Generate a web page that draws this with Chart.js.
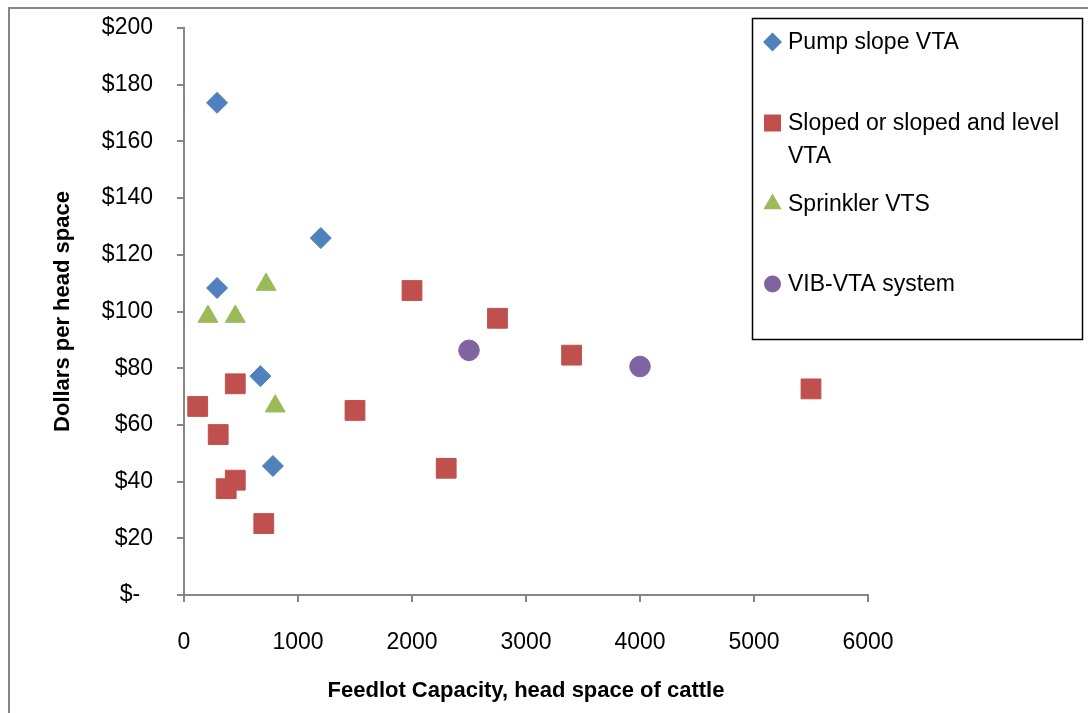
<!DOCTYPE html>
<html>
<head>
<meta charset="utf-8">
<script src="https://cdn.jsdelivr.net/npm/chart.js@4.4.0/dist/chart.umd.min.js"></script>
<style>
  html, body { margin: 0; padding: 0; background: #fff; }
</style>
</head>
<body>
<canvas id="myChart" width="1088" height="713"></canvas>
<script>
var seriesNames = ["Pump slope VTA", "Sloped or sloped and level VTA", "Sprinkler VTS", "VIB-VTA system"];

var pumpX = [290, 290, 1200, 670, 780];
var pumpY = [173.6, 108.3, 125.9, 77.2, 45.5];

var slopedX = [120, 300, 450, 370, 450, 700, 1500, 2000, 2300, 2750, 3400, 5500];
var slopedY = [66.5, 56.6, 74.5, 37.5, 40.5, 25.2, 65.1, 107.4, 44.7, 97.6, 84.6, 72.7];

var sprinklerX = [210, 450, 720, 800];
var sprinklerY = [98.2, 98.2, 109.5, 66.6];

var vibX = [2500, 4000];
var vibY = [86.3, 80.6];

var xTicks = [0, 1000, 2000, 3000, 4000, 5000, 6000];
var yTicks = [0, 20, 40, 60, 80, 100, 120, 140, 160, 180, 200];

var axisGrey = '#868686';
var fontName = '"Liberation Sans", Arial, sans-serif';

function toPoints(xs, ys) {
  return xs.map(function (x, i) { return { x: x, y: ys[i] }; });
}

function yLabel(v) {
  return v === 0 ? '$-  ' : '$' + v;
}

function drawMarker(ctx, style, r, x, y) {
  ctx.beginPath();
  if (style === 'rectRot') {
    ctx.moveTo(x, y - r); ctx.lineTo(x + r, y); ctx.lineTo(x, y + r); ctx.lineTo(x - r, y);
  } else if (style === 'rect') {
    var s = r * Math.SQRT1_2;
    ctx.rect(x - s, y - s, 2 * s, 2 * s);
  } else if (style === 'triangle') {
    ctx.moveTo(x, y - r);
    ctx.lineTo(x + r * Math.sin(2 * Math.PI / 3), y + r / 2);
    ctx.lineTo(x - r * Math.sin(2 * Math.PI / 3), y + r / 2);
  } else {
    ctx.arc(x, y, r, 0, Math.PI * 2);
  }
  ctx.closePath();
  ctx.fill();
}

// frame round the whole picture
var framePlugin = {
  id: 'frame',
  beforeDraw: function (chart) {
    var ctx = chart.ctx;
    ctx.save();
    ctx.fillStyle = '#fff';
    ctx.fillRect(0, 0, chart.width, chart.height);
    ctx.strokeStyle = axisGrey;
    ctx.lineWidth = 2;
    ctx.strokeRect(9, 8, chart.width + 20, chart.height + 20);
    ctx.restore();
  }
};

// Excel style boxed legend on the right
var boxLegend = {
  id: 'boxLegend',
  afterDraw: function (chart) {
    var ctx = chart.ctx;
    var rows = [42, 123, 204, 284];
    var sizes = [9.5, 12, 10.5, 8.5];
    ctx.save();
    ctx.strokeStyle = '#000';
    ctx.lineWidth = 1.5;
    ctx.strokeRect(752.5, 18.5, 330, 321);
    ctx.font = '23px ' + fontName;
    ctx.textBaseline = 'middle';
    ctx.textAlign = 'left';
    chart.data.datasets.forEach(function (ds, i) {
      ctx.fillStyle = ds.backgroundColor;
      drawMarker(ctx, ds.pointStyle, sizes[i], 772.5, rows[i]);
      // wrap the label inside the box
      var words = ds.label.split(' ');
      var lines = [], line = '';
      words.forEach(function (w) {
        var test = line ? line + ' ' + w : w;
        if (ctx.measureText(test).width > 290 && line) {
          lines.push(line);
          line = w;
        } else {
          line = test;
        }
      });
      lines.push(line);
      ctx.fillStyle = '#000';
      lines.forEach(function (l, j) {
        ctx.fillText(l, 788, rows[i] + 1 + j * 33);
      });
    });
    ctx.restore();
  }
};

var ctx = document.getElementById('myChart');
var myChart = new Chart(ctx, {
  type: 'scatter',
  data: {
    datasets: [{
      label: seriesNames[0],
      data: toPoints(pumpX, pumpY),
      pointStyle: 'rectRot',
      pointRadius: 10.5,
      backgroundColor: '#4F81BD',
      borderColor: '#4F81BD',
      borderWidth: 1
    }, {
      label: seriesNames[1],
      data: toPoints(slopedX, slopedY),
      pointStyle: 'rect',
      pointRadius: 14,
      backgroundColor: '#C0504D',
      borderColor: '#C0504D',
      borderWidth: 1
    }, {
      label: seriesNames[2],
      data: toPoints(sprinklerX, sprinklerY),
      pointStyle: 'triangle',
      pointRadius: 11.5,
      backgroundColor: '#9BBB59',
      borderColor: '#9BBB59',
      borderWidth: 1
    }, {
      label: seriesNames[3],
      data: toPoints(vibX, vibY),
      pointStyle: 'circle',
      pointRadius: 10.3,
      backgroundColor: '#8064A2',
      borderColor: '#8064A2',
      borderWidth: 1
    }]
  },
  options: {
    responsive: false,
    animation: false,
    devicePixelRatio: 1,
    layout: { padding: { left: 0, top: 28, right: 220, bottom: 0 } },
    plugins: {
      legend: { display: false },
      tooltip: { enabled: false }
    },
    scales: {
      x: {
        type: 'linear',
        min: xTicks[0],
        max: xTicks[xTicks.length - 1],
        afterBuildTicks: function (scale) {
          scale.ticks = xTicks.map(function (v) { return { value: v }; });
        },
        afterFit: function (scale) { scale.height = 118; },
        ticks: {
          color: '#000',
          padding: 27,
          maxRotation: 0,
          font: { family: fontName, size: 23 },
          callback: function (v) { return String(v); }
        },
        grid: {
          drawOnChartArea: false,
          drawTicks: true,
          tickLength: 7,
          color: axisGrey,
          lineWidth: 2
        },
        border: { color: axisGrey, width: 2 },
        title: {
          display: true,
          text: 'Feedlot Capacity, head space of cattle',
          color: '#000',
          font: { family: fontName, size: 22, weight: 'bold' },
          padding: { top: 0, bottom: 9 }
        }
      },
      y: {
        type: 'linear',
        min: yTicks[0],
        max: yTicks[yTicks.length - 1],
        afterBuildTicks: function (scale) {
          scale.ticks = yTicks.map(function (v) { return { value: v }; });
        },
        afterFit: function (scale) {
          scale.width = 184;
          scale.paddingTop = 0;
          scale.paddingBottom = 0;
        },
        ticks: {
          color: '#000',
          padding: 24,
          font: { family: fontName, size: 23 },
          callback: function (v) { return yLabel(v); }
        },
        grid: {
          drawOnChartArea: false,
          drawTicks: true,
          tickLength: 7,
          color: axisGrey,
          lineWidth: 2
        },
        border: { color: axisGrey, width: 2 },
        title: {
          display: true,
          text: 'Dollars per head space',
          color: '#000',
          font: { family: fontName, size: 22, weight: 'bold' },
          padding: { top: 50, bottom: 0 }
        }
      }
    }
  },
  plugins: [framePlugin, boxLegend]
});
</script>
</body>
</html>
